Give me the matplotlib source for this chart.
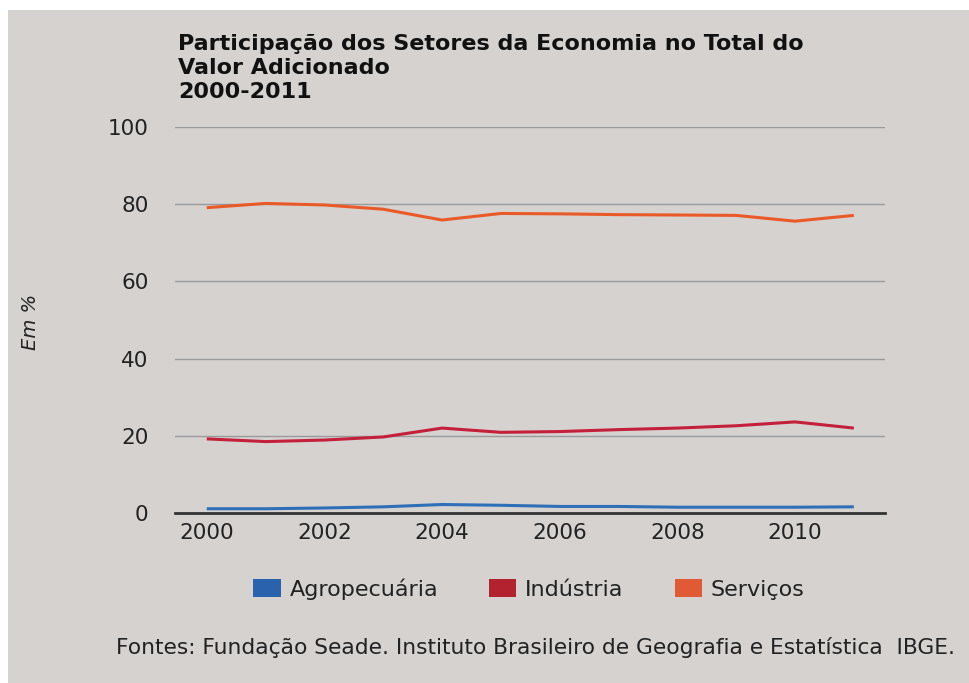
import numpy as np
import matplotlib.pyplot as plt
from matplotlib.patches import Rectangle, Patch

plt.rcParams['font.family'] = ['DejaVu Sans']

anos = np.arange(2000, 2012)
agropecuaria = [1.1, 1.1, 1.3, 1.6, 2.2, 2.0, 1.7, 1.7, 1.5, 1.5, 1.5, 1.6]
industria = [19.2, 18.5, 18.9, 19.7, 22.0, 20.9, 21.1, 21.6, 22.0, 22.6, 23.6, 22.0]
servicos = [79.1, 80.2, 79.8, 78.7, 75.9, 77.6, 77.5, 77.3, 77.2, 77.1, 75.6, 77.1]

series = ['Agropecuária', 'Indústria', 'Serviços']
cores_linha = ['#2f6fb8', '#c41f3b', '#ea5a28']
cores_legenda = ['#2a62ae', '#b3222f', '#e05a35']

fundo = '#d5d2d0'
texto = '#222222'

fig = plt.figure(figsize=(9.7, 6.83), dpi=100, facecolor='white')
fig.patches.append(Rectangle((8 / 970, 0), 1, 1 - 10 / 683, transform=fig.transFigure,
                             facecolor=fundo, edgecolor='none', zorder=-10))

ax = fig.add_axes([175 / 970, 1 - 513 / 683, 710 / 970, 386 / 683])
ax.set_facecolor('none')

for valores, cor in zip([agropecuaria, industria, servicos], cores_linha):
    ax.plot(anos, valores, color=cor, lw=2.2, solid_capstyle='butt')

ax.set_xlim(1999.46, 2011.53)
ax.set_ylim(0, 100)
ax.set_yticks([0, 20, 40, 60, 80, 100])
ax.set_xticks([2000, 2002, 2004, 2006, 2008, 2010])
ax.grid(axis='y', color='#9a9a9a', lw=1.0)
ax.set_axisbelow(True)
for lado in ['top', 'right', 'left']:
    ax.spines[lado].set_visible(False)
ax.spines['bottom'].set_color('#333333')
ax.spines['bottom'].set_linewidth(2)
ax.tick_params(axis='both', length=0, labelsize=15.5, labelcolor=texto)
ax.tick_params(axis='y', pad=19)
ax.tick_params(axis='x', pad=7)

# rótulo do eixo y
fig.text(31 / 970, 1 - 322 / 683, 'Em %', rotation=90, style='italic', fontsize=14,
         color=texto, ha='center', va='center')

fig.text(178 / 970, 1 - 34 / 683,
         'Participação dos Setores da Economia no Total do\nValor Adicionado\n2000-2011',
         fontsize=16, fontweight='bold', color='#111111', ha='left', va='top', linespacing=1.24)

alcas = [Patch(facecolor=c, edgecolor='none') for c in cores_legenda]
fig.legend(alcas, series, loc='center', bbox_to_anchor=(529 / 970, 1 - 589 / 683), ncol=3,
           frameon=False, fontsize=16, handlelength=1.22, handleheight=0.81,
           columnspacing=2.3, handletextpad=0.4, labelcolor=texto)

fig.text(955 / 970, 1 - 648 / 683,
         'Fontes: Fundação Seade. Instituto Brasileiro de Geografia e Estatística  IBGE.',
         fontsize=15.7, color=texto, ha='right', va='center')

fig.savefig('out.png', dpi=100, facecolor=fig.get_facecolor())
